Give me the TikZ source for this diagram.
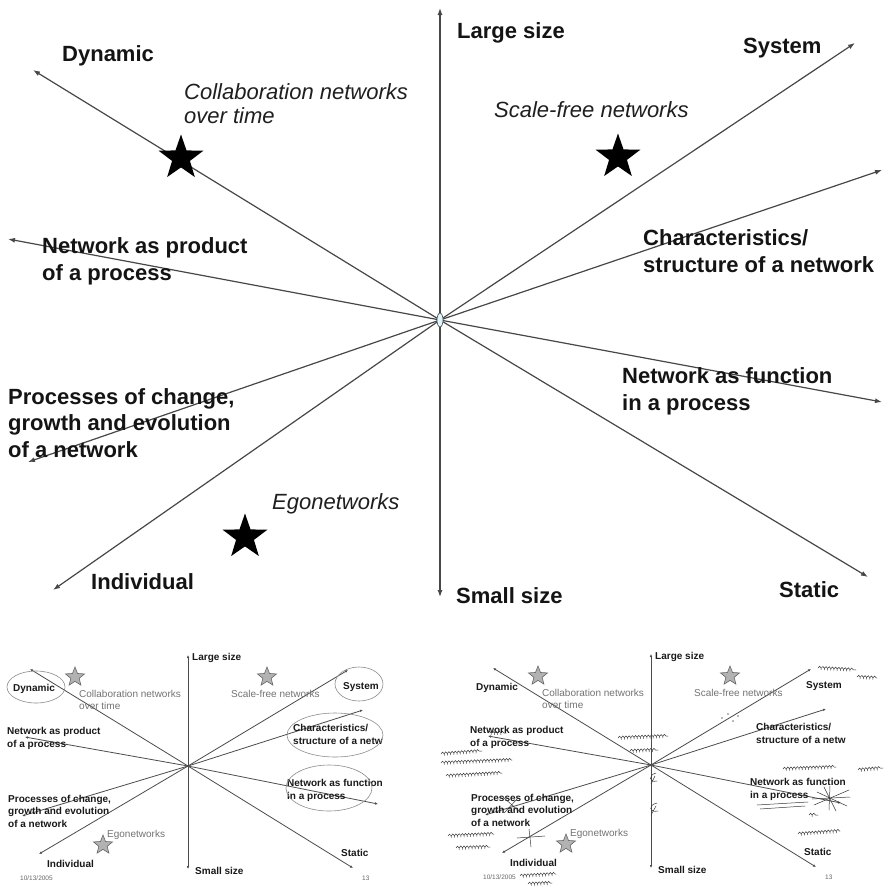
\documentclass[tikz,border=0pt]{standalone}
\usepackage{fontspec}
\setmainfont{Liberation Sans}
\usetikzlibrary{arrows.meta,shapes.geometric,decorations.pathmorphing}

% Multi-line labels: anchor "base west" sits on the baseline of the last line.
\tikzset{
  mainaxis/.style={draw=black!72, line width=1.2pt, -{Latex[length=7pt,width=5pt]}},
  lab/.style={font=\fontsize{22}{26.5}\selectfont\bfseries, text=black!92, inner sep=0pt, anchor=base west, align=left},
  ital/.style={font=\fontsize{22}{24}\selectfont\itshape, text=black!88, inner sep=0pt, anchor=base west, align=left},
  bigstar/.style={star, star points=5, star point ratio=2.5, minimum size=47pt, inner sep=0pt, fill=black, draw=none},
  hub/.style={ellipse, draw=black!75, fill=cyan!12, line width=0.6pt, minimum width=6pt, minimum height=14pt, inner sep=0pt},
  slideaxis/.style={draw=black!70, line width=0.8pt, -{Latex[length=3pt,width=2.6pt]}},
  slab/.style={font=\fontsize{10}{12.3}\selectfont\bfseries, text=black!90, inner sep=0pt, anchor=base west, align=left},
  sgray/.style={font=\fontsize{10}{12}\selectfont, text=black!55, inner sep=0pt, anchor=base west, align=left},
  sfoot/.style={font=\fontsize{6.5}{7}\selectfont, text=black!60, inner sep=0pt, anchor=base west},
  smallstar/.style={star, star points=5, star point ratio=2.3, minimum size=20pt, inner sep=0pt, fill=black!30, draw=black!60, line width=0.6pt},
  ring/.style={draw=black!45, line width=0.6pt},
  ink/.style={draw=black!78, line width=0.5pt, line cap=round},
  scribble/.style={ink, decorate, decoration={coil, aspect=0.45, amplitude=1.8pt, segment length=3.2pt}},
  % one small slide of the same scheme
  slide/.pic={
    \coordinate (-c) at (188,766);
    \coordinate (-up) at (188,655);
    \coordinate (-down) at (188,869);
    \coordinate (-dyn) at (30,669);
    \coordinate (-prod) at (25,737);
    \coordinate (-proc) at (22,816);
    \coordinate (-ind) at (39,854);
    \coordinate (-sys) at (348,670);
    \coordinate (-char) at (363,710);
    \coordinate (-func) at (378,804);
    \coordinate (-stat) at (353,868);
    \foreach \t in {up,down,dyn,prod,proc,ind,sys,char,func,stat}
      \draw[slideaxis] (-c) -- (-\t);
    \node[slab] (-large) at (192,660) {Large size};
    \node[slab] (-small) at (195,874) {Small size};
    \node[slab] (-dynl) at (13,691) {Dynamic};
    \node[slab] (-sysl) at (343,689) {System};
    \node[slab] (-prodl) at (7,747) {Network as product\\of a process};
    \node[slab] (-charl) at (293,744) {Characteristics/\\structure of a netw};
    \node[slab] (-funcl) at (287,799) {Network as function\\in a process};
    \node[slab] (-procl) at (8,827) {Processes of change,\\growth and evolution\\of a network};
    \node[slab] (-indl) at (47,867) {Individual};
    \node[slab] (-statl) at (341,856) {Static};
    \node[sgray] (-coll) at (79,709) {Collaboration networks\\over time};
    \node[sgray] (-scale) at (231,697) {Scale-free networks};
    \node[sgray] (-ego) at (107,837) {Egonetworks};
    \node[smallstar] (-s1) at (75,677) {};
    \node[smallstar] (-s2) at (267,677) {};
    \node[smallstar] (-s3) at (103,845) {};
    \node[sfoot] (-date) at (20,880) {10/13/2005};
    \node[sfoot] (-page) at (362,880) {13};
  }
}

\begin{document}
\begin{tikzpicture}[x=1pt,y=-1pt]
\useasboundingbox[fill=white] (0,0) rectangle (887,887);

% ---- large scheme: ten directions from one hub ----
\coordinate (c) at (440,320);
\coordinate (up) at (440,8);
\coordinate (down) at (440,597);
\coordinate (dyn) at (33,70);
\coordinate (prod) at (8,239);
\coordinate (proc) at (28,462);
\coordinate (ind) at (53,590);
\coordinate (sys) at (855,43);
\coordinate (char) at (882,170);
\coordinate (func) at (882,402);
\coordinate (stat) at (868,577);
\foreach \t in {up,down,dyn,prod,proc,ind,sys,char,func,stat}
  \draw[mainaxis] (c) -- (\t);
\node[hub] (hubnode) at (c) {};

\node[lab] (lLarge) at (457,38) {Large size};
\node[lab] (lSmall) at (456,603) {Small size};
\node[lab] (lDyn) at (62,61) {Dynamic};
\node[lab] (lSys) at (743,53) {System};
\node[lab] (lProd) at (42,280) {Network as product\\of a process};
\node[lab] (lChar) at (643,272) {Characteristics/\\structure of a network};
\node[lab] (lProc) at (8,457) {Processes of change,\\growth and evolution\\of a network};
\node[lab] (lFunc) at (622,410) {Network as function\\in a process};
\node[lab] (lInd) at (91,589) {Individual};
\node[lab] (lStat) at (779,597) {Static};

\node[ital] (lColl) at (184,123) {Collaboration networks\\over time};
\node[ital] (lScale) at (494,117) {Scale-free networks};
\node[ital] (lEgo) at (272,509) {Egonetworks};

\node[bigstar] (sColl) at (181,158) {};
\node[bigstar] (sScale) at (618,157) {};
\node[bigstar] (sEgo) at (245,537) {};

% ---- two small slides ----
\pic (L) at (0,0) {slide};
\pic (R) at (463,-1) {slide};

% rings drawn by hand on the left slide
\draw[ring] (36,687) ellipse [x radius=29, y radius=16];
\draw[ring] (359,684) ellipse [x radius=24, y radius=17];
\draw[ring] (335,735) ellipse [x radius=48, y radius=22];
\draw[ring] (329,788) ellipse [x radius=43, y radius=23];

% handwritten notes on the right slide
\draw[scribble] (818,668) -- (856,670);
\draw[scribble] (857,677) -- (877,678);
\draw[scribble] (618,738) -- (668,736);
\draw[scribble] (630,751) -- (658,750);
\draw[scribble] (441,754) -- (482,751);
\draw[scribble] (441,763) -- (512,760);
\draw[scribble] (446,776) -- (502,773);
\draw[scribble] (488,733) -- (506,733);
\draw[scribble] (448,836) -- (494,834);
\draw[scribble] (456,848) -- (490,847);
\draw[ink] (517,838) -- (545,836);
\draw[ink] (529,829) -- (531,847);
\draw[ink] (503,797) -- (520,812);
\draw[ink] (504,813) -- (518,798);
\draw[ink] (656,773) .. controls (648,775) and (649,783) .. (657,781);
\draw[ink] (655,776) -- (651,784);
\draw[ink] (657,803) .. controls (648,805) and (649,813) .. (658,811);
\draw[ink] (656,806) -- (651,815);
\draw[scribble] (783,769) -- (836,767);
\draw[scribble] (858,770) -- (883,768);
\draw[ink] (814,805) -- (849,790);
\draw[ink] (824,787) -- (836,811);
\draw[ink] (817,792) -- (847,806);
\draw[ink] (830,786) -- (829,810);
\draw[ink] (812,799) -- (850,797);
\draw[ink] (757,805) -- (808,802);
\draw[ink] (760,809) -- (805,806);
\draw[scribble] (809,815) -- (818,815);
\draw[scribble] (798,834) -- (840,831);
\draw[scribble] (520,876) -- (556,874);
\draw[scribble] (528,884) -- (552,883);
\foreach \p in {(722,718),(728,714),(733,721),(738,716)}
  \fill[black!55] \p circle (0.8);
\end{tikzpicture}
\end{document}
